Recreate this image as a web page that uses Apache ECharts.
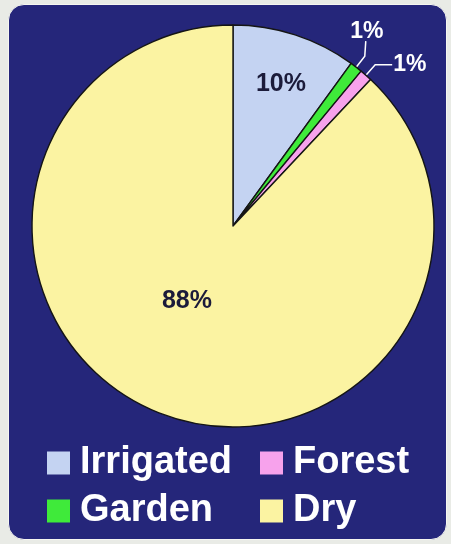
<!DOCTYPE html>
<html>
<head>
<meta charset="utf-8">
<script src="https://cdn.jsdelivr.net/npm/echarts@6/dist/echarts.min.js"></script>
<style>
html,body{margin:0;padding:0;background:#e9ebe6;width:451px;height:544px;overflow:hidden;}
#panel{position:absolute;left:8px;top:4px;width:437px;height:534px;border-radius:16px;background:#25267a;border:1.5px solid #f6f6f0;}
#main{position:absolute;left:0;top:0;width:451px;height:544px;}
</style>
</head>
<body>
<div id="panel"></div>
<div id="main"></div>
<script>
const categories = ['Irrigated', 'Garden', 'Forest', 'Dry'];
const values = [10, 1, 1, 88];
const labelTexts = ['10%', '1%', '1%', '88%'];
const colors = ['#c4d3f2', '#3fea3a', '#f7a2ec', '#fbf3a2'];

const chart = echarts.init(document.getElementById('main'), null, {renderer: 'canvas'});

const insideLabel = {
  show: true, position: 'inside', fontFamily: 'Liberation Sans, Arial, sans-serif',
  fontWeight: 'bold', fontSize: 25, color: '#1b1b3a'
};
const outsideLabel = {
  show: true, position: 'outside', fontFamily: 'Liberation Sans, Arial, sans-serif',
  fontWeight: 'bold', fontSize: 23, color: '#ffffff', distanceToLabelLine: 1
};
const labelStyles = [
  Object.assign({}, insideLabel, {offset: [16, -43]}),
  outsideLabel,
  outsideLabel,
  Object.assign({}, insideLabel, {offset: [-8, -21]})
];

const data = categories.map((name, i) => ({
  name: name,
  value: values[i],
  itemStyle: {color: colors[i]},
  label: Object.assign({}, labelStyles[i], {formatter: labelTexts[i]}),
  labelLine: {show: i === 1 || i === 2, length: 14, length2: i === 2 ? 17 : 0,
    lineStyle: {color: '#ffffff', width: 1.5}}
}));

const legendText = {
  color: '#ffffff', fontWeight: 'bold', fontSize: 38,
  fontFamily: 'Liberation Sans, Arial, sans-serif', padding: [0, 0, 0, 5]
};

chart.setOption({
  animation: false,
  legend: [
    {orient: 'vertical', left: 42, top: 439, itemWidth: 23, itemHeight: 23, itemGap: 10,
     icon: 'rect', itemStyle: {borderWidth: 0}, data: ['Irrigated', 'Garden'], textStyle: legendText},
    {orient: 'vertical', left: 255, top: 439, itemWidth: 23, itemHeight: 23, itemGap: 10,
     icon: 'rect', itemStyle: {borderWidth: 0}, data: ['Forest', 'Dry'], textStyle: legendText}
  ],
  series: [{
    type: 'pie',
    center: [233, 226],
    radius: 201,
    startAngle: 90,
    clockwise: true,
    avoidLabelOverlap: false,
    itemStyle: {borderColor: '#151515', borderWidth: 1.4},
    emphasis: {disabled: true},
    data: data,
    labelLayout: function (params) {
      if (params.dataIndex === 1 && params.labelLinePoints) {
        const p0 = params.labelLinePoints[0];
        const p1 = params.labelLinePoints[1];
        const p2 = [p1[0] + 1, p1[1] - 15];
        return {
          x: p2[0] + 1, y: p2[1] + 2,
          align: 'center', verticalAlign: 'bottom',
          labelLinePoints: [p0, p1, p2]
        };
      }
      return {};
    }
  }]
});
</script>
</body>
</html>
